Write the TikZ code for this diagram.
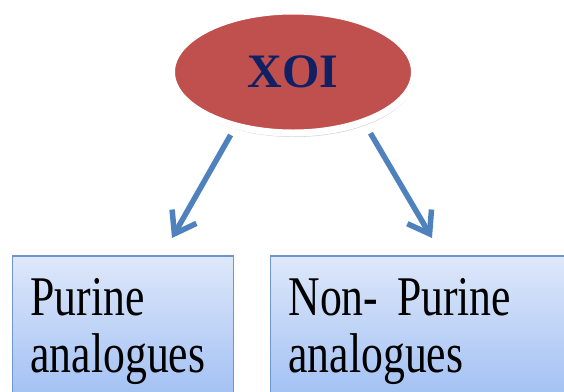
\documentclass[tikz,border=0pt]{standalone}
\usepackage{fontspec}
\setmainfont{Liberation Serif}
\newfontfamily\boxfont[FakeStretch=0.78]{Liberation Serif}
\usetikzlibrary{shapes.geometric,arrows.meta,shadows}
\definecolor{xoired}{RGB}{192,80,77}
\definecolor{xoitext}{RGB}{16,32,100}
\definecolor{arrowblue}{RGB}{79,129,189}
\definecolor{boxtop}{RGB}{222,232,250}
\definecolor{boxbottom}{RGB}{158,190,243}
\definecolor{boxline}{RGB}{110,150,205}

\begin{document}
\begin{tikzpicture}[
		x=1pt, y=-1pt,
		every node/.style={align=left},
		root/.style={ellipse, draw=white, line width=7pt, fill=xoired, minimum width=243pt, minimum height=122pt, inner sep=0pt, text=xoitext, font=\fontsize{48}{50}\selectfont\bfseries, drop shadow={shadow xshift=1pt, shadow yshift=-4pt, opacity=0.3, fill=black!60}},
		box/.style={draw=boxline, line width=1.2pt, top color=boxtop, bottom color=boxbottom, inner xsep=18pt, inner ysep=22pt, font=\boxfont\fontsize{56}{57}\selectfont},
		link/.style={arrowblue, line width=5.5pt, -{Straight Barb[length=20pt, width=28pt]}}
	]
		\useasboundingbox (0,0) rectangle (564,391);
		\clip (0,0) rectangle (564,391);

		\node[root] (xoi) at (293,72) {XOI};

		\node[box, text width=185pt, anchor=base west] (pur) at (12,315) {Purine\\analogues};
		\node[box, text width=300pt, anchor=base west] (nonpur) at (270,315) {Non- Purine\\analogues};

		\coordinate (lt) at (172,238);
		\coordinate (rt) at (432,238);
		\draw[link, shorten <=7pt] (xoi.-136) -- (lt);
		\draw[link, shorten <=10pt] (xoi.-36) -- (rt);
	\end{tikzpicture}
\end{document}
